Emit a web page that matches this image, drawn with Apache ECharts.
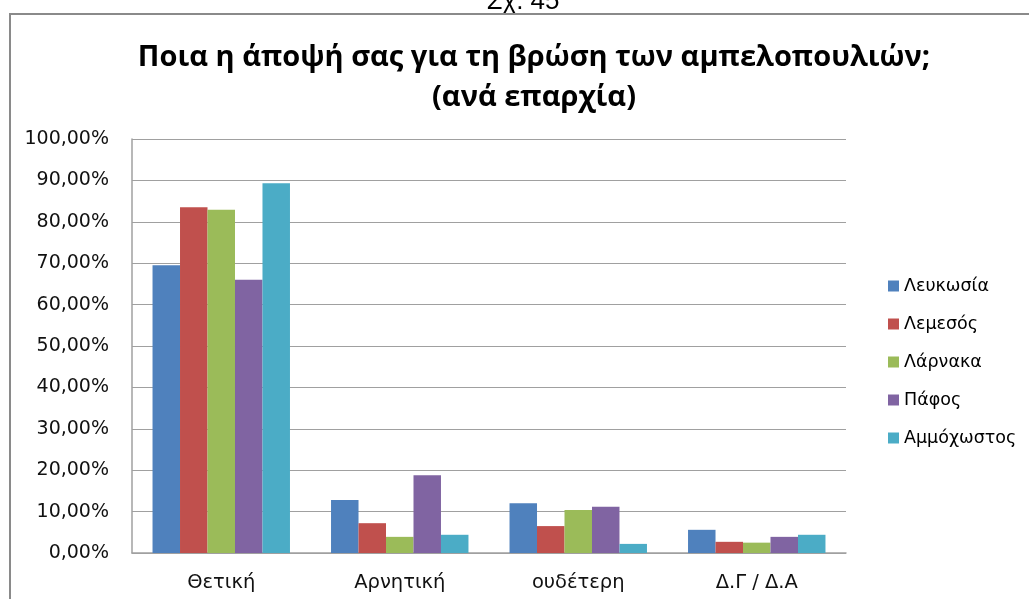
<!DOCTYPE html>
<html><head><meta charset="utf-8">
<script src="https://cdn.jsdelivr.net/npm/echarts@6/dist/echarts.min.js"></script>
<style>html,body{margin:0;padding:0;background:#fff}#c{width:1029px;height:599px}</style>
</head><body><div id="c"></div>
<script>
const categories = ['Θετική', 'Αρνητική', 'ουδέτερη', 'Δ.Γ / Δ.Α'];
const seriesNames = ['Λευκωσία', 'Λεμεσός', 'Λάρνακα', 'Πάφος', 'Αμμόχωστος'];
const lefkosia = [69.5, 12.8, 12.0, 5.6];
const lemesos = [83.5, 7.2, 6.5, 2.7];
const larnaka = [82.9, 3.9, 10.4, 2.5];
const pafos = [66.0, 18.8, 11.2, 3.9];
const ammochostos = [89.3, 4.4, 2.2, 4.4];
const colors = ['#4F81BD', '#C0504D', '#9BBB59', '#8064A2', '#4BACC6'];
const allData = [lefkosia, lemesos, larnaka, pafos, ammochostos];

const chart = echarts.init(document.getElementById('c'), null, {renderer: 'canvas'});
chart.setOption({
  animation: false,
  color: colors,
  title: [{
    text: 'Ποια η άποψή σας για τη βρώση των αμπελοπουλιών;\n(ανά επαρχία)',
    left: 529, top: 33, textAlign: 'center',
    textStyle: {fontFamily: 'Open Sans', fontWeight: 'bold', fontSize: 29, lineHeight: 40, color: '#000'}
  }],
  graphic: [
    {type: 'text', x: 523, y: 15, z: 1, style: {text: 'Σχ. 45', font: '26px "Liberation Sans"', fill: '#000', textAlign: 'center', textVerticalAlign: 'bottom'}, silent: true},
    {type: 'rect', z: 2, shape: {x: 10, y: 14, width: 1040, height: 620}, style: {fill: 'none', stroke: '#8a8a8a', lineWidth: 2}, silent: true}
  ],
  legend: {
    orient: 'vertical', left: 883, top: 272, itemGap: 20, itemWidth: 11, itemHeight: 11,
    icon: 'rect',
    textStyle: {fontFamily: 'DejaVu Sans', fontSize: 17.5, color: '#000'},
    data: seriesNames
  },
  grid: {left: 132, right: 183, top: 139, bottom: 46, containLabel: false},
  xAxis: {
    type: 'category', data: categories,
    axisLine: {lineStyle: {color: '#a0a0a0', width: 1.5}},
    axisTick: {show: false},
    axisLabel: {fontFamily: 'DejaVu Sans', fontSize: 19.5, color: '#111', margin: 20}
  },
  yAxis: {
    type: 'value', min: 0, max: 100, interval: 10,
    axisLine: {show: true, lineStyle: {color: '#a0a0a0', width: 1.5}},
    axisTick: {show: false},
    splitLine: {lineStyle: {color: '#a0a0a0', width: 1}},
    axisLabel: {fontFamily: 'DejaVu Sans', fontSize: 19, color: '#111', margin: 23,
      formatter: v => v.toFixed(2).replace('.', ',') + '%'}
  },
  series: seriesNames.map((n, i) => ({
    name: n, type: 'bar', data: allData[i],
    barGap: '0%', barCategoryGap: '23%',
    itemStyle: {color: colors[i]}
  }))
});
</script></body></html>
